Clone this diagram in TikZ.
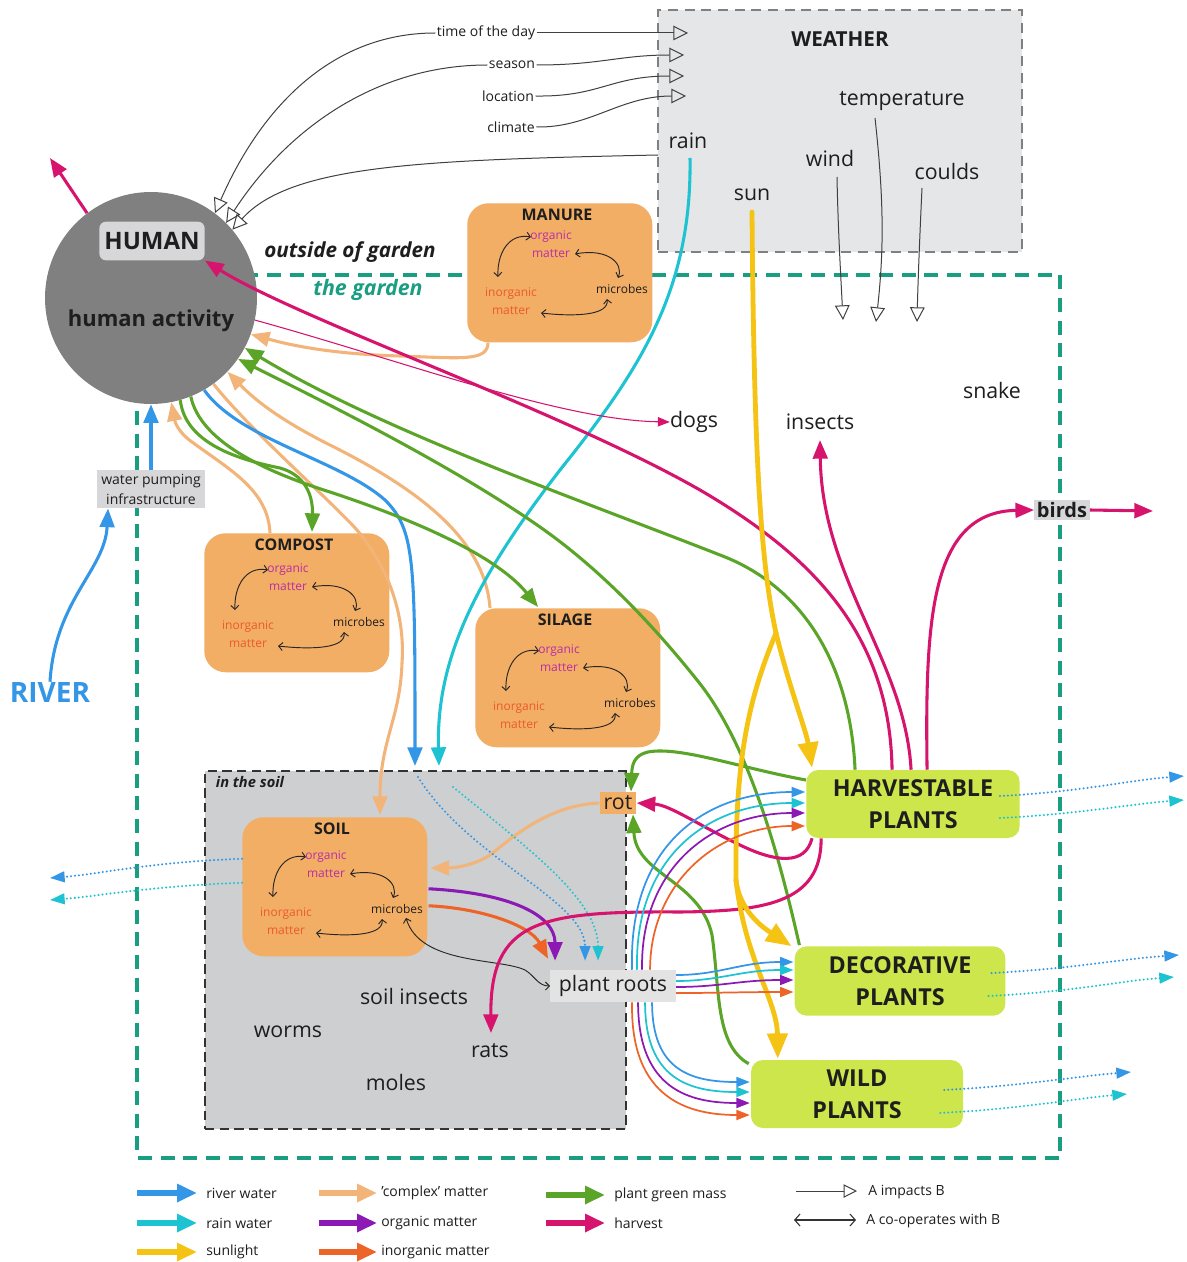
\documentclass[tikz,border=0pt]{standalone}
\usepackage{fontspec}
\setmainfont{Open Sans}
\usetikzlibrary{arrows.meta,calc}
\pgfdeclarelayer{bg}
\pgfdeclarelayer{flows}
\pgfdeclarelayer{top}
\pgfsetlayers{bg,main,flows,top}
\definecolor{riverC}{RGB}{51,150,230}
\definecolor{rainC}{RGB}{30,195,210}
\definecolor{sunC}{RGB}{245,195,20}
\definecolor{cplxC}{RGB}{242,180,120}
\definecolor{orgC}{RGB}{140,25,180}
\definecolor{inorgC}{RGB}{238,100,40}
\definecolor{greenC}{RGB}{90,165,40}
\definecolor{harvC}{RGB}{214,20,110}
\definecolor{tealC}{RGB}{25,158,130}
\definecolor{boxC}{RGB}{242,174,100}
\definecolor{plantC}{RGB}{205,230,75}
\definecolor{humanC}{RGB}{128,128,128}
\definecolor{labelC}{RGB}{215,215,217}
\definecolor{weatherC}{RGB}{229,230,232}
\definecolor{soilC}{RGB}{206,207,209}
\definecolor{orgT}{RGB}{185,45,165}
\definecolor{inorgT}{RGB}{235,90,45}
\definecolor{txt}{RGB}{30,30,30}
\tikzset{
 every node/.style={inner sep=0pt, text=txt},
 t16/.style={font=\fontsize{16}{19}\selectfont},
 t10/.style={font=\fontsize{10.5}{12}\selectfont},
 obox/.style={fill=boxC, rounded corners=16pt, minimum width=138.75pt, minimum height=104.25pt},
 boxtitle/.style={font=\bfseries\fontsize{12}{14}\selectfont},
 cyct/.style={font=\fontsize{9}{11}\selectfont},
 cyc/.style={draw=black!85, line width=0.7pt, {Straight Barb[length=3pt,width=6pt]}-{Straight Barb[length=3pt,width=6pt]}},
 imp/.style={draw=black!75, line width=0.75pt, -{Triangle[open,length=11pt,width=11pt]}},
 mflow/.style={line width=2.3pt, color=#1, -{Triangle[length=14pt,width=11pt]}},
 sflow/.style={line width=3.6pt, color=sunC, line cap=round, -{Triangle[length=19pt,width=15pt]}},
 tf/.style={line width=1.3pt, color=#1, -{Triangle[length=10pt,width=7.5pt]}},
 dflow/.style={line width=1.7pt, color=#1, dash pattern=on 0pt off 3pt, line cap=round, -{Triangle[length=11pt,width=8pt]}},
 legflow/.style={line width=3.8pt, color=#1, -{Triangle[length=15pt,width=13pt]}},
 plantbox/.style={fill=plantC, rounded corners=9pt, minimum width=160pt, minimum height=51pt, align=center, font=\bfseries\fontsize{17.5}{24}\selectfont},
}
\newcommand\cyclebox[5]{%
  \node[obox, anchor=north west] (#1) at (#2,#3) {};
  \begin{scope}[shift={(#2,#3)}]
    \node[boxtitle] (#1title) at (90,12) {#4};
    \begin{scope}[shift={(0,#5)}]
      \node[cyct, text=orgT] (#1org) at (84,34) {organic};
      \node[cyct, text=orgT] (#1orgm) at (84,51) {matter};
      \node[cyct, text=inorgT] (#1ino) at (44,91) {inorganic};
      \node[cyct, text=inorgT] (#1inom) at (44,108) {matter};
      \node[cyct] (#1mic) at (155,86) {microbes};
      \draw[cyc] (64,34) .. controls (42,30) and (30,50) .. (31,74);
      \draw[cyc] (108,51) .. controls (140,45) and (157,60) .. (151,75);
      \draw[cyc] (74,110) .. controls (110,114) and (142,112) .. (140,96);
    \end{scope}
  \end{scope}}
\begin{document}
\begin{tikzpicture}[x=0.75pt,y=-0.75pt]
\useasboundingbox (0,0) rectangle (1186,1262);

% regions
\begin{pgfonlayer}{bg}
\fill[white] (0,0) rectangle (1186,1262);
\draw[tealC, line width=2.6pt, dash pattern=on 10.5pt off 6.5pt] (137,275) rectangle (1060,1158);
\node[draw=black!50, fill=weatherC, line width=1.4pt, dash pattern=on 7.5pt off 5pt, minimum width=273pt, minimum height=181.5pt] (weather) at (840,131) {};
\node[draw=black!80, fill=soilC, line width=1.5pt, dash pattern=on 7pt off 4pt, minimum width=315.75pt, minimum height=268.5pt, anchor=north west] (soilzone) at (204,770) {};
\end{pgfonlayer}

% text labels
\node[t10, inner sep=1pt] (tod) at (486,33) {time of the day};
\node[t10, inner sep=1pt] (season) at (512,65) {season};
\node[t10, inner sep=1pt] (location) at (508,96) {location};
\node[t10, inner sep=1pt] (climate) at (511,127) {climate};
\node[font=\bfseries\fontsize{15.5}{18}\selectfont] (wxtitle) at (840,39) {WEATHER};
\node[t16] (temp) at (902,101) {temperature};
\node[t16] (wind) at (830,159) {wind};
\node[t16] (coulds) at (947,172) {coulds};
\node[t16] (rain) at (688,141) {rain};
\node[t16] (sun) at (752,195) {sun};
\node[font=\bfseries\itshape\fontsize{15.5}{18}\selectfont] (outside) at (350,252) {outside of garden};
\node[font=\bfseries\itshape\fontsize{16}{18}\selectfont, text=tealC] (gardenlbl) at (368,290) {the garden};
\node[t16] (dogs) at (694,422) {dogs};
\node[t16] (insects) at (820,422) {insects};
\node[t16] (snake) at (992,390) {snake};
\node[fill=labelC, inner sep=2pt, font=\bfseries\fontsize{15}{18}\selectfont] (birds) at (1062,510) {birds};
\node[fill=labelC, inner sep=3pt, align=center, font=\fontsize{10.5}{15}\selectfont] (pump) at (151,489) {water pumping\\infrastructure};
\node[font=\bfseries\fontsize{21}{24}\selectfont, text=riverC] (river) at (50,692) {RIVER};
\node[font=\bfseries\itshape\fontsize{11}{13}\selectfont] (insoil) at (250,782) {in the soil};
\node[t16] (soilins) at (414,996) {soil insects};
\node[t16] (worms) at (288,1032) {worms};
\node[t16] (rats) at (490,1051) {rats};
\node[t16] (moles) at (396,1082) {moles};

% coordinates
\coordinate (wx1) at (688,33);
\coordinate (wx2) at (684,55);
\coordinate (wx3) at (684,76);
\coordinate (wx4) at (686,96);
\coordinate (wxIn) at (658,155);
\coordinate (tempS) at (875,118);
\coordinate (tempE) at (876,322);
\coordinate (windS) at (837,177);
\coordinate (windE) at (843,320);
\coordinate (couldsS) at (922,188);
\coordinate (couldsE) at (917,322);
\coordinate (rainS) at (690,158);
\coordinate (sunS) at (752,212);
\coordinate (sunSplit) at (776,633);
\coordinate (sunSplitB) at (736,880);
\coordinate (insectsIn) at (820,440);
\coordinate (birdsOut) at (1153,511);
\coordinate (humOut) at (50,158);
\coordinate (ratsIn) at (491,1033);
\coordinate (rvdot) at (418,777);
\coordinate (rndot) at (453,787);

% human circle
\node[circle, fill=humanC, minimum size=159pt] (human) at (151,298) {};
\node[fill=labelC, rounded corners=5pt, minimum width=79pt, minimum height=29pt, font=\bfseries\fontsize{18}{20}\selectfont] (hlabel) at (152,241) {HUMAN};
\node[font=\bfseries\fontsize{16.5}{18}\selectfont] (hact) at (151,321) {human activity};

% cycle boxes
\cyclebox{manure}{467}{203}{MANURE}{0}
\cyclebox{compost}{204}{533}{COMPOST}{3}
\cyclebox{silage}{475}{608}{SILAGE}{9}
\cyclebox{soil}{242}{817}{SOIL}{6}

% top-layer nodes
\begin{pgfonlayer}{top}
\node[plantbox] (harv) at (913,804) {HARVESTABLE\\PLANTS};
\node[plantbox, minimum width=158pt, minimum height=52pt] (deco) at (900,981) {DECORATIVE\\PLANTS};
\node[plantbox, minimum width=159pt] (wild) at (857,1094) {WILD\\PLANTS};
\node[fill=boxC, inner sep=3pt, t16] (rot) at (618,803) {rot};
\node[fill=labelC!70!white, inner sep=2pt, minimum width=94pt, minimum height=24pt, t16] (roots) at (613,986) {plant roots};
\end{pgfonlayer}

% microbes <-> roots
\draw[cyc] ($(soilmic.south)+(9,4)$) .. controls (420,965) and (500,958) .. (525,970) .. controls (535,976) and (538,986) .. (roots.west);

\begin{pgfonlayer}{flows}
% weather impacts
\draw[imp] (tod.east) -- (wx1);
\draw[imp] (season.east) .. controls (600,65) and (620,55) .. (wx2);
\draw[imp] (location.east) .. controls (600,97) and (610,76) .. (wx3);
\draw[imp] (climate.east) .. controls (590,128) and (620,96) .. (wx4);
\draw[imp] (tod.west) .. controls (330,33) and (260,110) .. (human.53);
\draw[imp] (season.west) .. controls (380,65) and (290,125) .. (human.45);
\draw[imp] (wxIn) .. controls (420,160) and (290,165) .. (human.40);
\draw[imp] (tempS) .. controls (884,200) and (884,250) .. (tempE);
\draw[imp] (windS) .. controls (838,230) and (841,280) .. (windE);
\draw[imp] (couldsS) .. controls (920,230) and (918,280) .. (couldsE);

% complex matter
\draw[mflow=cplxC] ($(manure.south west)+(21,0)$) .. controls (488,362) and (460,358) .. (400,356) .. controls (330,354) and (290,345) .. (human.-20);
\draw[mflow=cplxC] ($(compost.north west)+(66,0)$) .. controls (268,490) and (230,470) .. (192,442) .. controls (178,432) and (175,422) .. (human.-79);
\draw[mflow=cplxC] ($(silage.north west)+(15,0)$) .. controls (485,540) and (420,490) .. (330,445) .. controls (280,420) and (255,400) .. (human.-44);
\draw[mflow=cplxC] (human.-54) .. controls (250,430) and (330,500) .. (357,530) .. controls (392,572) and (405,620) .. (402,663) .. controls (400,720) and (380,740) .. ($(soil.north west)+(138,-2)$);
\draw[mflow=cplxC] (rot.west) .. controls (550,805) and (515,835) .. (490,855) .. controls (475,865) and (455,868) .. ($(soil.north east)+(3,51)$);

% river water
\draw[mflow=riverC] (human.-60) .. controls (240,440) and (340,460) .. (385,500) .. controls (415,530) and (415,560) .. (415,766);
\draw[mflow=riverC] (pump.north) -- (human.-90);
\draw[mflow=riverC] (river.north) .. controls (55,600) and (105,570) .. ($(pump.south west)+(11,0)$);

% rain
\draw[mflow=rainC] (rainS) .. controls (692,290) and (640,370) .. (560,470) .. controls (475,580) and (436,660) .. (439,766);

% organic / inorganic from soil
\draw[mflow=orgC] ($(soil.east)+(1,2)$) .. controls (510,893) and (555,915) .. ($(roots.north west)+(5,-9)$);
\draw[mflow=inorgC] ($(soil.east)+(1,19)$) .. controls (480,908) and (530,925) .. ($(roots.north west)+(-2,-11)$);
\draw[dflow=riverC] (rvdot) .. controls (470,860) and (585,900) .. ($(roots.north west)+(35,-9)$);
\draw[dflow=rainC] (rndot) .. controls (530,850) and (598,900) .. ($(roots.north west)+(48,-9)$);

% soil outflows
\coordinate (so1) at (50,878);
\coordinate (so2) at (50,900);
\draw[dflow=riverC] ($(soil.west)+(0,-28)$) .. controls (150,862) and (100,874) .. (so1);
\draw[dflow=rainC] ($(soil.west)+(0,-4)$) .. controls (150,886) and (100,896) .. (so2);

% green
\draw[mflow=greenC] ($(harv.west)+(0,-24)$) .. controls (740,768) and (680,746) .. (648,752) .. controls (634,755) and (632,765) .. ($(rot.north)+(13,0)$);
\draw[mflow=greenC] ($(wild.north west)+(-2,4)$) .. controls (715,1045) and (720,990) .. (712,935) .. controls (700,880) and (636,875) .. ($(rot.south)+(15,0)$);
\draw[mflow=greenC] ($(harv.north west)+(49,0)$) .. controls (850,660) and (800,585) .. (720,555) .. controls (580,500) and (380,430) .. (human.-28);
\draw[mflow=greenC] ($(deco.north west)+(5,-1)$) .. controls (780,860) and (750,745) .. (697,680) .. controls (665,640) and (610,576) .. (540,527) .. controls (450,464) and (320,400) .. (human.-35);
\draw[mflow=greenC] (human.-74) .. controls (185,440) and (230,458) .. (280,468) .. controls (305,475) and (313,495) .. ($(compost.north west)+(108,-1)$);
\draw[mflow=greenC] (human.-68) .. controls (200,440) and (260,470) .. (330,492) .. controls (430,525) and (500,560) .. ($(silage.north west)+(63,-1)$);

% harvest
\draw[mflow=harvC] ($(harv.north west)+(86,0)$) .. controls (890,640) and (820,560) .. (700,490) .. controls (560,410) and (300,320) .. (hlabel.south east);
\draw[mflow=harvC] ($(harv.north west)+(105,0)$) .. controls (905,660) and (822,580) .. (insectsIn);
\draw[mflow=harvC] ($(harv.north west)+(121,0)$) .. controls (925,620) and (930,512) .. (birds.west);
\draw[mflow=harvC] (birds.east) -- (birdsOut);
\draw[mflow=harvC] (human.127) -- (humOut);
\draw[harvC, line width=0.8pt, -{Triangle[length=9pt,width=7pt]}] (human.-12) .. controls (400,360) and (560,420) .. (dogs.west);
\draw[mflow=harvC] ($(harv.south west)+(6,0)$) .. controls (805,866) and (775,862) .. (740,845) .. controls (700,826) and (670,805) .. (rot.east);
\draw[mflow=harvC] ($(harv.south west)+(15,0)$) .. controls (822,905) and (760,911) .. (680,912) .. controls (540,911) and (490,920) .. (ratsIn);

% sunlight
\draw[sflow, -] (sunS) .. controls (754,450) and (760,560) .. (sunSplit);
\draw[sflow] (sunSplit) .. controls (790,690) and (806,730) .. ($(harv.north west)+(6,-2)$);
\draw[sflow, -] (sunSplit) .. controls (748,700) and (735,760) .. (sunSplitB);
\draw[sflow] (sunSplitB) .. controls (740,915) and (770,932) .. ($(deco.north west)+(-3,0)$);
\draw[sflow] (sunSplitB) .. controls (745,960) and (777,1000) .. ($(wild.north west)+(27,-1)$);

% roots to plants
\draw[tf=riverC] ($(roots.north west)+(82,0)$) .. controls (628,850) and (700,792) .. ($(harv.west)+(-1,-12)$);
\draw[tf=rainC] ($(roots.north west)+(87,0)$) .. controls (634,860) and (705,803) .. ($(harv.west)+(-1,-1)$);
\draw[tf=orgC] ($(roots.north west)+(92,0)$) .. controls (640,870) and (710,813) .. ($(harv.west)+(-1,9)$);
\draw[tf=inorgC] ($(roots.north west)+(100,0)$) .. controls (650,885) and (715,826) .. ($(harv.west)+(-1,22)$);
\draw[tf=riverC] ($(roots.south west)+(102,0)$) .. controls (652,1070) and (690,1082) .. ($(wild.west)+(-1,-12)$);
\draw[tf=rainC] ($(roots.south west)+(95,0)$) .. controls (645,1080) and (690,1092) .. ($(wild.west)+(-1,-2)$);
\draw[tf=orgC] ($(roots.south west)+(88,0)$) .. controls (638,1090) and (690,1103) .. ($(wild.west)+(-1,9)$);
\draw[tf=inorgC] ($(roots.south west)+(82,0)$) .. controls (630,1100) and (690,1115) .. ($(wild.west)+(-1,21)$);
\draw[tf=riverC] ($(roots.east)+(0,-11)$) .. controls (720,975) and (740,962) .. ($(deco.west)+(-1,-19)$);
\draw[tf=rainC] ($(roots.east)+(0,-5)$) .. controls (720,981) and (740,970) .. ($(deco.west)+(-1,-11)$);
\draw[tf=orgC] ($(roots.east)+(0,1)$) .. controls (720,987) and (740,980) .. ($(deco.west)+(-1,-1)$);
\draw[tf=inorgC] ($(roots.east)+(0,7)$) .. controls (720,993) and (740,992) .. ($(deco.west)+(-1,11)$);
\end{pgfonlayer}

% dotted outflows from plants (over the plant boxes)
\begin{pgfonlayer}{top}
\coordinate (ho1) at (1184,776);
\coordinate (ho2) at (1184,800);
\coordinate (do1) at (1179,955);
\coordinate (do2) at (1174,977);
\coordinate (wo1) at (1131,1072);
\coordinate (wo2) at (1127,1094);
\draw[dflow=riverC] ($(harv.east)+(-20,-8)$) .. controls (1080,792) and (1130,780) .. (ho1);
\draw[dflow=rainC] ($(harv.east)+(-20,14)$) .. controls (1080,814) and (1130,804) .. (ho2);
\draw[dflow=riverC] ($(deco.east)+(-14,-8)$) .. controls (1070,969) and (1120,959) .. (do1);
\draw[dflow=rainC] ($(deco.east)+(-17,15)$) .. controls (1070,992) and (1120,981) .. (do2);
\draw[dflow=riverC] ($(wild.east)+(-19,-4)$) .. controls (1020,1086) and (1080,1076) .. (wo1);
\draw[dflow=rainC] ($(wild.east)+(-23,19)$) .. controls (1020,1109) and (1080,1098) .. (wo2);
\end{pgfonlayer}

% legend
\draw[legflow=riverC] (137,1193) -- (197,1193);
\node[t10, anchor=west] (lg1) at (206,1193) {river water};
\draw[legflow=rainC] (137,1223) -- (197,1223);
\node[t10, anchor=west] (lg2) at (206,1223) {rain water};
\draw[legflow=sunC] (137,1252) -- (197,1252);
\node[t10, anchor=west] (lg3) at (206,1252) {sunlight};
\draw[legflow=cplxC] (319,1193) -- (377,1193);
\node[t10, anchor=west] (lg4) at (381,1193) {'complex' matter};
\draw[legflow=orgC] (319,1223) -- (377,1223);
\node[t10, anchor=west] (lg5) at (381,1223) {organic matter};
\draw[legflow=inorgC] (319,1252) -- (377,1252);
\node[t10, anchor=west] (lg6) at (381,1252) {inorganic matter};
\draw[legflow=greenC] (546,1195) -- (605,1195);
\node[t10, anchor=west] (lg7) at (614,1195) {plant green mass};
\draw[legflow=harvC] (546,1223) -- (605,1223);
\node[t10, anchor=west] (lg8) at (614,1223) {harvest};
\draw[imp, -{Triangle[open,length=10pt,width=10pt]}] (796,1191) -- (857,1191);
\node[t10, anchor=west] (lg9) at (868,1192) {A impacts B};
\draw[draw=black!80, line width=0.8pt, {Straight Barb[length=4pt,width=9pt]}-{Straight Barb[length=4pt,width=9pt]}] (794,1220) -- (856,1220);
\node[t10, anchor=west] (lg10) at (866,1221) {A co-operates with B};
\end{tikzpicture}
\end{document}
